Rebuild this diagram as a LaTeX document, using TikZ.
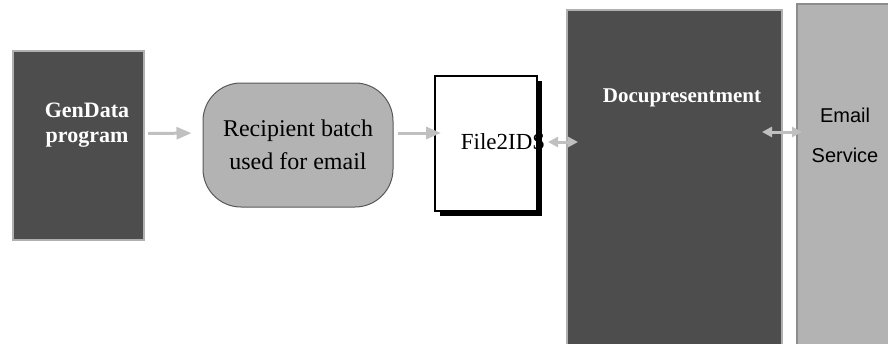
\documentclass[tikz,border=0pt]{standalone}
\usepackage{fontspec}
\setmainfont{Liberation Serif}
\newfontfamily\servicefont{Liberation Sans}
\usetikzlibrary{arrows.meta,shadows}
\definecolor{darkbox}{HTML}{4D4D4D}
\definecolor{edgegray}{HTML}{B0B0B0}
\definecolor{lightbox}{HTML}{B3B3B3}
\definecolor{arrowgray}{HTML}{C0C0C0}

\begin{document}
\begin{tikzpicture}[x=1pt, y=-1pt, thick,
    block/.style = {draw=edgegray, line width=2pt, fill=darkbox},
    whitetext/.style = {text=white, align=center, font=\bfseries\fontsize{22}{25}\selectfont},
    batch/.style = {draw=black!65, line width=1pt, fill=lightbox, rounded corners=38pt,
                    minimum width=190pt, minimum height=124pt, align=center,
                    font=\fontsize{24}{33}\selectfont},
    page/.style = {draw=black, line width=2pt, fill=white, minimum width=102pt, minimum height=135pt,
                   drop shadow={shadow xshift=4.5pt, shadow yshift=-5pt, fill=black, opacity=1}},
    service/.style = {draw=black!45, line width=2pt, fill=lightbox},
    flow/.style = {draw=arrowgray, line width=3pt, -{Triangle[length=15pt,width=12pt]}},
    both/.style = {draw=arrowgray, line width=3pt,
                   {Triangle[length=10pt,width=10pt]}-{Triangle[length=10pt,width=10pt]}}]
    \useasboundingbox (0,0) rectangle (888,343);
    \clip (0,0) rectangle (888,343);
    \node[block, minimum width=131pt, minimum height=189pt] (gen) at (78.5,145.5) {};
    \node[whitetext] (gentext) at (87,125) {GenData\\program};
    \node[batch] (recip) at (298,145) {Recipient batch\\used for email};
    \node[page] (file) at (486,143.5) {};
    \node[font=\fontsize{23}{26}\selectfont] (filetext) at (503,142) {File2IDS};
    \node[block, minimum width=215pt, minimum height=370pt] (docu) at (674.5,195) {};
    \node[whitetext, font=\bfseries\fontsize{21}{24}\selectfont] (docutext) at (682,98) {Docupresentment};
    \node[service, minimum width=103pt, minimum height=376pt] (email) at (848.5,192) {};
    \node[align=center, font=\servicefont\fontsize{20}{40}\selectfont] (emailtext) at (845,135) {Email\\Service};
    \draw[flow, shorten <=3pt, shorten >=11pt] ([yshift=12pt]gen.east) -- ([yshift=12pt]recip.west);
    \draw[flow, shorten <=4pt, shorten >=-7pt] ([yshift=12pt]recip.east) -- ([yshift=10.5pt]file.west);
    \draw[both] ([xshift=10pt,yshift=1.5pt]file.east) -- ([xshift=12pt,yshift=1.5pt]file.east -| docu.west);
    \draw[both] ([xshift=-21pt,yshift=63pt]docu.east) -- ([xshift=6pt,yshift=63pt]docu.east -| email.west);
\end{tikzpicture}
\end{document}
